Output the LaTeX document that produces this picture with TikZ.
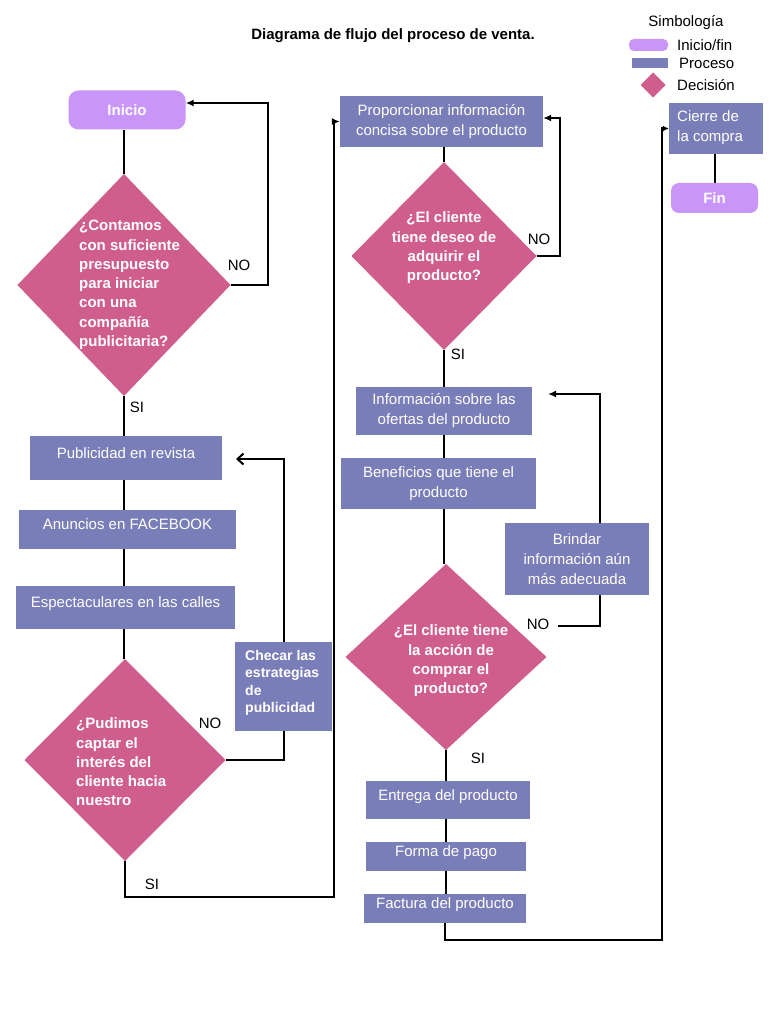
\documentclass[tikz,border=0pt]{standalone}
\usepackage{fontspec}
\setmainfont{Liberation Sans}
\usetikzlibrary{arrows.meta,shapes.geometric,backgrounds}
\definecolor{lila}{RGB}{201,150,248}
\definecolor{procc}{RGB}{122,126,184}
\definecolor{deci}{RGB}{208,94,140}
\begin{document}
\begin{tikzpicture}[x=1pt,y=-1pt,
  every node/.style={font=\fontsize{15}{20}\selectfont},
  term/.style={fill=lila, rounded corners=10pt, text=white, font=\fontsize{15}{20}\selectfont\bfseries, inner sep=0pt},
  procbox/.style={fill=procc, text=white, inner sep=0pt, align=center},
  oneline/.style={text height=4pt, text depth=4pt},
  decbox/.style={diamond, fill=deci, inner sep=0pt, outer sep=0pt},
  dectxt/.style={text=white, font=\fontsize{15}{19.3}\selectfont\bfseries, inner sep=0pt},
  conn/.style={line width=2pt, black},
  arr/.style={conn, -{Latex[length=8pt,width=7pt]}},
  barb/.style={conn, -{Straight Barb[length=6pt,width=11pt]}},
  lbl/.style={font=\fontsize{15}{18}\selectfont, inner sep=0pt}
]
\useasboundingbox (0,0) rectangle (768,1024);
\begin{scope}[on background layer]
\fill[white] (0,0) rectangle (768,1024);
\end{scope}

% title
\node[lbl, font=\fontsize{15}{18}\selectfont\bfseries] (title) at (393,36) {Diagrama de flujo del proceso de venta.};

% legend
\node[lbl] (sim) at (686,23) {Simbología};
\node[term, rounded corners=5pt, minimum width=39pt, minimum height=12pt] (lg1) at (648.5,45) {};
\node[lbl, anchor=west] (lt1) at (677,45) {Inicio/fin};
\node[procbox, minimum width=36pt, minimum height=10pt] (lg2) at (650,63) {};
\node[lbl, anchor=west] (lt2) at (679,63) {Proceso};
\node[decbox, minimum width=25pt, minimum height=25pt] (lg3) at (653,85) {};
\node[lbl, anchor=west] (lt3) at (677,85) {Decisión};

% left column
\node[term, minimum width=117pt, minimum height=39pt] (ini) at (127,110) {Inicio};
\node[decbox, minimum width=213pt, minimum height=222pt] (d1) at (124,285) {};
\node[dectxt, anchor=west, align=left] (t1) at (79,285) {¿Contamos\\con suficiente\\presupuesto\\para iniciar\\con una\\compañía\\publicitaria?};
\node[procbox, oneline, minimum width=192pt, minimum height=44pt] (pub) at (126,458) {Publicidad en revista};
\node[procbox, oneline, minimum width=217pt, minimum height=39pt] (anu) at (127.5,529.5) {Anuncios en FACEBOOK};
\node[procbox, oneline, minimum width=219pt, minimum height=43pt] (esp) at (125.5,607.5) {Espectaculares en las calles};
\node[decbox, minimum width=201pt, minimum height=202pt] (d2) at (125,760) {};
\node[dectxt, anchor=west, align=left] (t2) at (76,762) {¿Pudimos\\captar el\\interés del\\cliente hacia\\nuestro};
\node[procbox, minimum width=97pt, minimum height=89pt] (chk) at (283.5,686.5) {};
\node[text=white, inner sep=0pt, anchor=west, align=left, font=\fontsize{14}{17.4}\selectfont\bfseries] (tchk) at (245,683) {Checar las\\estrategias\\de\\publicidad};

% middle column
\node[procbox, minimum width=203pt, minimum height=51pt] (prop) at (441.5,121.5) {Proporcionar información\\concisa sobre el producto};
\node[decbox, minimum width=185pt, minimum height=188pt] (d3) at (444,256) {};
\node[dectxt, align=center] (t3) at (444,248) {¿El cliente\\tiene deseo de\\adquirir el\\producto?};
\node[procbox, minimum width=176pt, minimum height=48pt] (info) at (444,411) {Información sobre las\\ofertas del producto};
\node[procbox, minimum width=195pt, minimum height=51pt] (ben) at (438.5,483.5) {Beneficios que tiene el\\producto};
\node[procbox, minimum width=144pt, minimum height=72pt] (bri) at (577,559) {Brindar\\información aún\\más adecuada};
\node[decbox, minimum width=201pt, minimum height=186pt] (d4) at (446,657) {};
\node[dectxt, align=center] (t4) at (451,661) {¿El cliente tiene\\la acción de\\comprar el\\producto?};
\node[procbox, oneline, minimum width=164pt, minimum height=38pt] (ent) at (448,800) {Entrega del producto};
\node[procbox, oneline, minimum width=160pt, minimum height=29pt] (pago) at (446,856.5) {Forma de pago};
\node[procbox, oneline, minimum width=162pt, minimum height=29pt] (fac) at (445,908.5) {Factura del producto};

% right column
\node[procbox, minimum width=94pt, minimum height=51pt] (cie) at (716,128.5) {};
\node[text=white, inner sep=0pt, anchor=west, align=left] (tcie) at (677,128) {Cierre de\\la compra};
\node[term, minimum width=87pt, minimum height=30pt, rounded corners=8pt] (fin) at (714.5,198) {Fin};

% labels
\node[lbl] (no1) at (239,265) {NO};
\node[lbl] (si1) at (137,407) {SI};
\node[lbl] (no2) at (210,723) {NO};
\node[lbl] (si2) at (152,884) {SI};
\node[lbl] (no3) at (539,239) {NO};
\node[lbl] (si3) at (458,354) {SI};
\node[lbl] (no4) at (538,624) {NO};
\node[lbl] (si4) at (478,758) {SI};

% connectors
\begin{scope}[on background layer]
\draw[conn] (d1.north |- ini.south) -- (d1.north);
\coordinate (c1) at (268,103);
\draw[arr] (d1.east) -| (c1) -- (ini.east |- c1);
\draw[conn] (d1.south) -- (d1.south |- d2.north);
\draw[conn] (d2.east) -| (chk.south);
\coordinate (c2) at (236,459);
\draw[barb] (chk.north) |- (c2);
\coordinate (c3) at (334,897);
\draw[arr] (d2.south) |- (c3) |- (prop.west);
\draw[conn] (d3.north |- prop.south) -- (d3.north);
\coordinate (c4) at (560,118);
\draw[arr] (d3.east) -| (c4) -- (prop.east |- c4);
\draw[conn] (d3.south) -- (d3.south |- d4.north);
\coordinate (n4a) at (558,626);
\coordinate (n4k) at (600,510);
\coordinate (n4b) at (548,394);
\draw[arr] (n4a) -| (n4k) |- (n4b);
\draw[conn] (d4.south) -- (d4.south |- fac.south);
\coordinate (c5) at (662,940);
\draw[conn, -{Latex[length=6pt,width=6pt]}] (fac.south) |- (c5) |- (cie.west);
\draw[conn] (fin.north |- cie.south) -- (fin.north);
\end{scope}
\end{tikzpicture}
\end{document}
